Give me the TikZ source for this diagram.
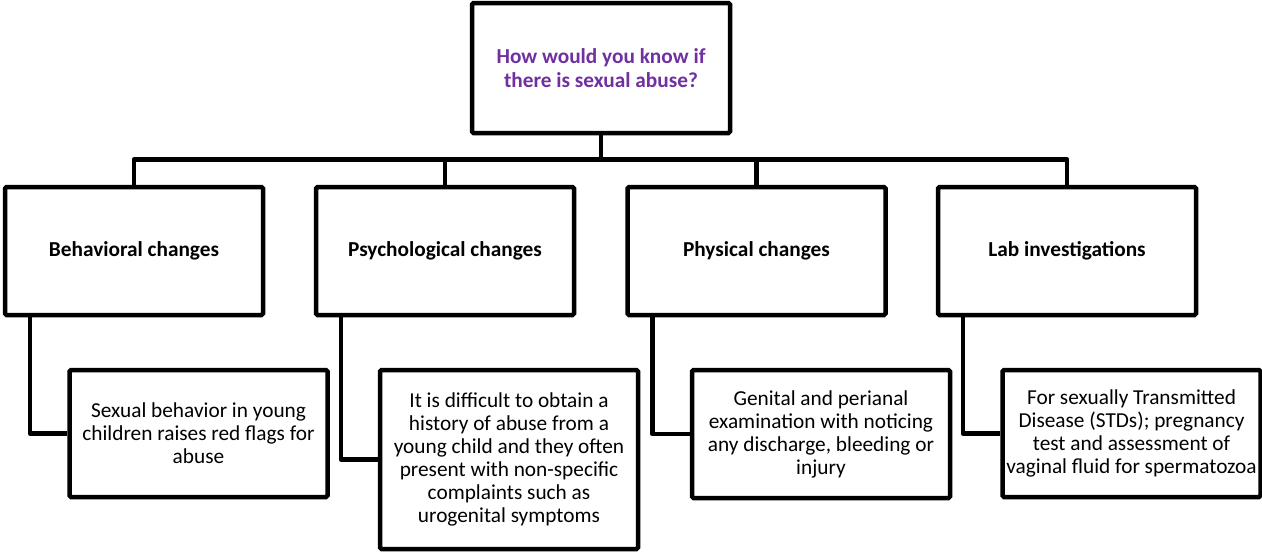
\documentclass[tikz,border=0pt]{standalone}
\usepackage{fontspec}
\setmainfont{Carlito}
\definecolor{qpurple}{HTML}{7030A0}
\begin{document}
\begin{tikzpicture}[x=1pt,y=-1pt,
  box/.style={draw=black,line width=4.5pt,rounded corners=1.5pt,fill=white,
    minimum width=258pt,inner sep=0pt,align=center,font=\fontsize{21.3}{23}\selectfont},
  headbox/.style={box,minimum height=128pt,font=\bfseries\fontsize{21.3}{23}\selectfont},
  conn/.style={line width=4.5pt,line join=round}]
\useasboundingbox (0,0) rectangle (1262,554);
\node[box,minimum height=130pt,text=qpurple,font=\bfseries\fontsize{21.3}{24}\selectfont] (top) at (601,68)
  {How would you know if\\there is sexual abuse?};
\node[headbox] (b1) at (134,251) {Behavioral changes};
\node[headbox] (b2) at (445,251) {Psychological changes};
\node[headbox] (b3) at (756.5,251) {Physical changes};
\node[headbox] (b4) at (1067,251) {Lab investigations};
\node[box,minimum height=127pt] (c1) at (198.5,433.5)
  {Sexual behavior in young\\children raises red flags for\\abuse};
\node[box,minimum height=179pt] (c2) at (509,459.5)
  {It is difficult to obtain a\\history of abuse from a\\young child and they often\\present with non-specific\\complaints such as\\urogenital symptoms};
\node[box,minimum height=128pt] (c3) at (821,434)
  {Genital and perianal\\examination with noticing\\any discharge, bleeding or\\injury};
\node[box,minimum height=127pt] (c4) at (1131.5,433.5)
  {For sexually Transmitted\\Disease (STDs); pregnancy\\test and assessment of\\vaginal fluid for spermatozoa};
\coordinate (bus) at (601,159.5);
\draw[conn] (top.south) -- (bus) -| (b1.north);
\draw[conn] (bus) -| (b2.north);
\draw[conn] (bus) -| (b3.north);
\draw[conn] (bus) -| (b4.north);
\draw[conn] ([xshift=27pt]b1.south west) |- (c1.west);
\draw[conn] ([xshift=27pt]b2.south west) |- (c2.west);
\draw[conn] ([xshift=27pt]b3.south west) |- (c3.west);
\draw[conn] ([xshift=27pt]b4.south west) |- (c4.west);
\end{tikzpicture}
\end{document}
